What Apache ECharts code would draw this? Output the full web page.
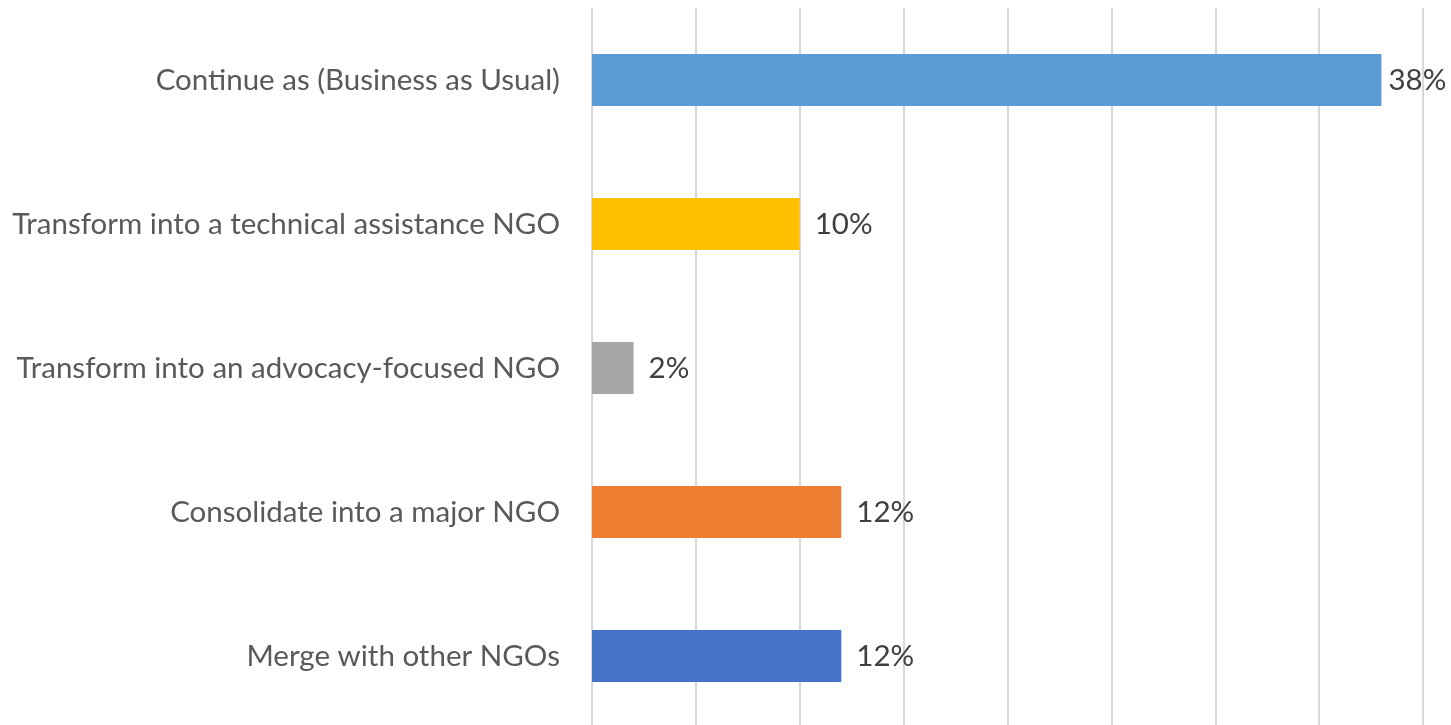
<!DOCTYPE html>
<html>
<head>
<meta charset="utf-8">
<script src="https://cdn.jsdelivr.net/npm/echarts@6/dist/echarts.min.js"></script>
<style>
  html, body { margin: 0; padding: 0; background: #fff; overflow: hidden; }
  #chart { width: 1451px; height: 728px; }
</style>
</head>
<body>
<div id="chart"></div>
<script>
// top to bottom as shown
var categories = [
  "Continue as (Business as Usual)",
  "Transform into a technical assistance NGO",
  "Transform into an advocacy-focused NGO",
  "Consolidate into a major NGO",
  "Merge with other NGOs"
];
var values = [38, 10, 2, 12, 12];
var barColors = ["#5B9BD5", "#FFC000", "#A5A5A5", "#ED7D31", "#4472C4"];

var chart = echarts.init(document.getElementById("chart"));
chart.setOption({
  animation: false,
  grid: {
    left: 592,
    right: 28,
    top: 8,
    bottom: 0
  },
  xAxis: {
    type: "value",
    min: 0,
    max: 40,
    interval: 5,
    axisLabel: { show: false },
    axisLine: { show: false },
    axisTick: { show: false },
    splitLine: {
      show: true,
      lineStyle: { color: "#d9d9d9", width: 2 }
    }
  },
  yAxis: {
    type: "category",
    inverse: true,
    data: categories,
    axisLine: { show: false },
    axisTick: { show: false },
    axisLabel: {
      margin: 32,
      color: "#595959",
      fontFamily: "Lato",
      fontSize: 29.5
    }
  },
  series: [
    {
      type: "bar",
      barWidth: 52,
      data: values.map(function (v, i) {
        var item = { value: v, itemStyle: { color: barColors[i] } };
        // the longest bar's label sits closer, as in the original
        if (i === 0) item.label = { distance: 7 };
        return item;
      }),
      label: {
        show: true,
        position: "right",
        distance: 15,
        color: "#404040",
        fontFamily: "Lato",
        fontSize: 29.5,
        formatter: "{c}%"
      }
    }
  ]
});
</script>
</body>
</html>
